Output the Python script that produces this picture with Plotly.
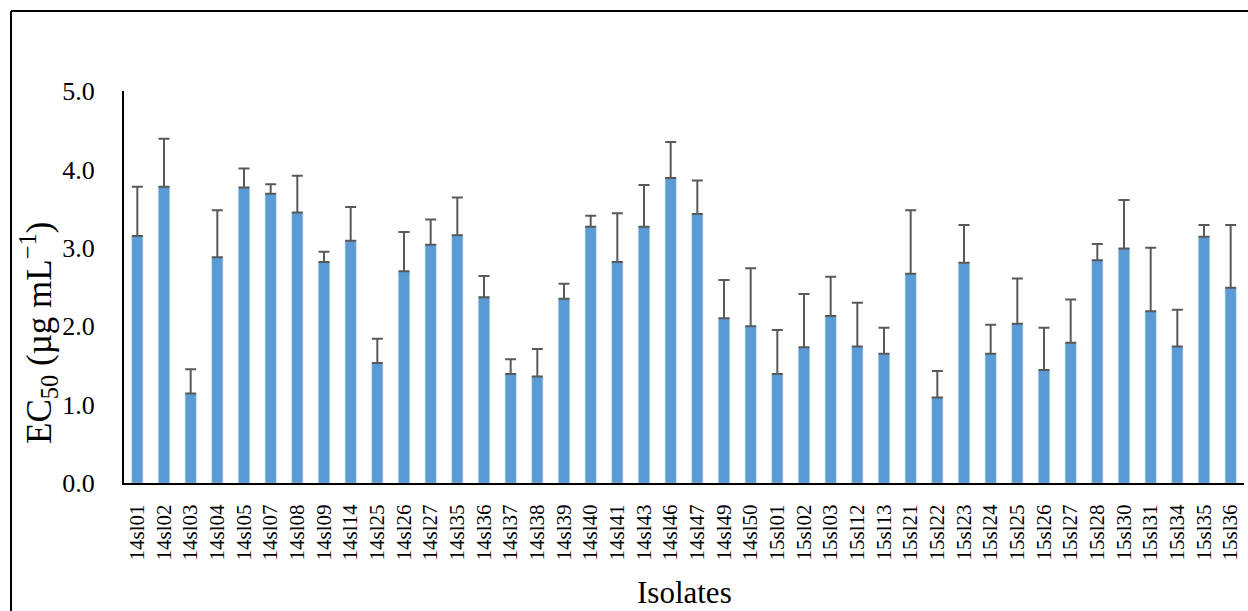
import plotly.graph_objects as go

# Isolate names
isolates = [
    "14sl01", "14sl02", "14sl03", "14sl04", "14sl05", "14sl07", "14sl08", "14sl09",
    "14sl14", "14sl25", "14sl26", "14sl27", "14sl35", "14sl36", "14sl37", "14sl38",
    "14sl39", "14sl40", "14sl41", "14sl43", "14sl46", "14sl47", "14sl49", "14sl50",
    "15sl01", "15sl02", "15sl03", "15sl12", "15sl13", "15sl21", "15sl22", "15sl23",
    "15sl24", "15sl25", "15sl26", "15sl27", "15sl28", "15sl30", "15sl31", "15sl34",
    "15sl35", "15sl36",
]

# Mean EC50 values (µg/mL)
ec50_mean = [
    3.15, 3.78, 1.14, 2.88, 3.77, 3.69, 3.45, 2.82,
    3.09, 1.53, 2.70, 3.04, 3.16, 2.37, 1.39, 1.36,
    2.35, 3.27, 2.82, 3.27, 3.89, 3.43, 2.10, 2.00,
    1.39, 1.73, 2.13, 1.74, 1.65, 2.67, 1.09, 2.81,
    1.65, 2.03, 1.44, 1.79, 2.84, 2.99, 2.19, 1.74,
    3.14, 2.49,
]

# Standard deviations
ec50_sd = [
    0.63, 0.61, 0.31, 0.60, 0.24, 0.12, 0.47, 0.13,
    0.43, 0.31, 0.50, 0.32, 0.48, 0.27, 0.19, 0.35,
    0.19, 0.14, 0.62, 0.53, 0.46, 0.43, 0.49, 0.74,
    0.56, 0.68, 0.50, 0.56, 0.33, 0.81, 0.34, 0.48,
    0.37, 0.58, 0.54, 0.55, 0.21, 0.62, 0.81, 0.47,
    0.15, 0.80,
]

y_ticks = [0, 1, 2, 3, 4, 5]
y_tick_text = ["0.0", "1.0", "2.0", "3.0", "4.0", "5.0"]

W, H = 1248, 611
ML, MR, MT, MB = 124, 4, 91, 128
PW, PH = W - ML - MR, H - MT - MB


def px_x(px):
    return (px - ML) / PW


def px_y(py):
    return (H - MB - py) / PH


serif = "Liberation Serif, Times New Roman, serif"

fig = go.Figure(
    go.Bar(
        x=isolates,
        y=ec50_mean,
        marker=dict(color="#5B9BD5", line=dict(color="#9DC3E6", width=0.6)),
        width=0.41,
        error_y=dict(
            type="data",
            symmetric=False,
            array=ec50_sd,
            arrayminus=[0] * len(ec50_sd),
            color="#595959",
            thickness=2,
            width=5.5,
        ),
    )
)

fig.update_layout(
    width=W,
    height=H,
    margin=dict(l=ML, r=MR, t=MT, b=MB),
    plot_bgcolor="white",
    paper_bgcolor="white",
    showlegend=False,
    font=dict(family=serif, color="black"),
    xaxis=dict(
        type="category",
        showline=True,
        linecolor="black",
        linewidth=2,
        ticks="",
        tickangle=-90,
        tickfont=dict(size=21, family=serif, color="black"),
        ticklabelstandoff=11,
        showgrid=False,
        zeroline=False,
    ),
    yaxis=dict(
        range=[0, 5],
        tickvals=y_ticks,
        ticktext=y_tick_text,
        showline=True,
        linecolor="black",
        linewidth=2,
        ticks="",
        tickfont=dict(size=26, family=serif, color="black"),
        ticklabelstandoff=22,
        showgrid=False,
        zeroline=False,
    ),
    annotations=[
        dict(
            text="EC<sub>50</sub> (µg mL<sup>−1</sup>)",
            xref="paper", yref="paper",
            x=px_x(38), y=px_y(333),
            xanchor="center", yanchor="middle",
            textangle=-90,
            showarrow=False,
            font=dict(size=35, family=serif, color="black"),
        ),
        dict(
            text="Isolates",
            xref="paper", yref="paper",
            x=px_x(684), y=px_y(592),
            xanchor="center", yanchor="middle",
            showarrow=False,
            font=dict(size=31, family=serif, color="black"),
        ),
    ],
    shapes=[
        # outer frame: top and left edges
        dict(type="line", xref="paper", yref="paper",
             x0=px_x(11), x1=px_x(W + 5), y0=px_y(11), y1=px_y(11),
             line=dict(color="black", width=2)),
        dict(type="line", xref="paper", yref="paper",
             x0=px_x(11), x1=px_x(11), y0=px_y(11), y1=px_y(H + 5),
             line=dict(color="black", width=2)),
    ],
)

fig.write_html("out.html")
